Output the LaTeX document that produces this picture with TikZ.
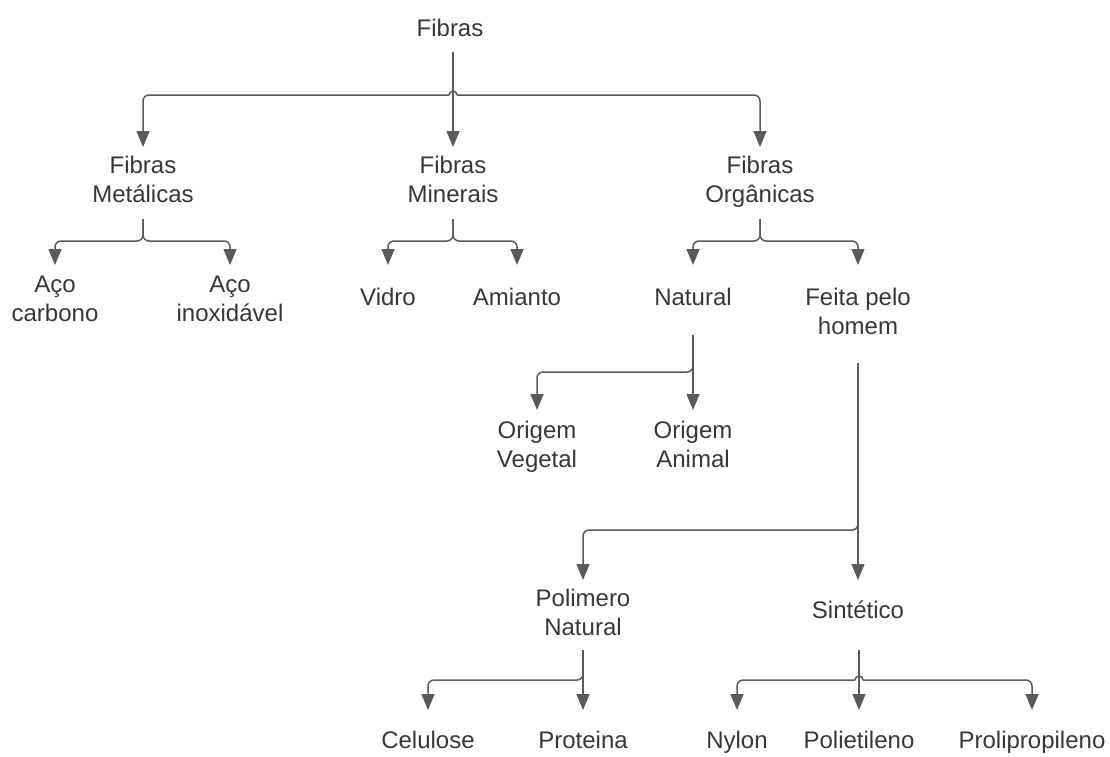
\documentclass[tikz,border=0pt]{standalone}
\usepackage{fontspec}
\setmainfont{Liberation Sans}
\usetikzlibrary{arrows.meta,calc}
\definecolor{edge}{RGB}{90,90,90}
\definecolor{ink}{RGB}{55,55,55}
\begin{document}
\begin{tikzpicture}[x=1pt,y=-1pt,
  lbl/.style={font=\fontsize{24}{29}\selectfont, text=ink, align=center, inner xsep=0pt, inner ysep=0pt},
  kid/.style={lbl, anchor=north, inner ysep=#1},
  kid/.default=9pt,
  link/.style={draw=edge, line width=1.5pt, rounded corners=6pt},
  tip/.style={-{Triangle[width=13pt,length=16pt]}},
  hop/.style={draw=edge, line width=1.5pt}]
\useasboundingbox (0,0) rectangle (1110,756);

% labels
\node[lbl] (fibras) at (450,28) {Fibras};
\node[kid] (metal) at (143,147) {Fibras\\Metálicas};
\node[kid] (miner) at (453,147) {Fibras\\Minerais};
\node[kid] (organ) at (760,147) {Fibras\\Orgânicas};

\node[kid=11pt] (acoc) at (55,265) {Aço\\carbono};
\node[kid=11pt] (acoi) at (230,265) {Aço\\inoxidável};
\node[kid=23pt] (vidro) at (388,265) {Vidro};
\node[kid=23pt] (amianto) at (517,265) {Amianto};
\node[kid=23pt] (natural) at (693,265) {Natural};
\node[kid=23pt] (feita) at (858,265) {Feita pelo\\homem};

\node[kid=11pt] (vegetal) at (537,410) {Origem\\Vegetal};
\node[kid=11pt] (animal) at (693,410) {Origem\\Animal};

\node[kid] (polimero) at (583,580) {Polimero\\Natural};
\node[kid=21pt] (sintetico) at (858,580) {Sintético};

\node[kid=21pt] (celulose) at (428,710) {Celulose};
\node[kid=21pt] (proteina) at (583,710) {Proteina};
\node[kid=21pt] (nylon) at (737,710) {Nylon};
\node[kid=21pt] (polietileno) at (859,710) {Polietileno};
\node[kid=21pt] (prolipro) at (1032,710) {Prolipropileno};

% stem starts and bar levels
\coordinate (s0) at (453,52);   \coordinate (b0) at (453,95);
\coordinate (s1) at (143,219);  \coordinate (b1) at (0,241);
\coordinate (s2) at (453,219);
\coordinate (s3) at (760,219);
\coordinate (s4) at (693,335);  \coordinate (b4) at (0,372);
\coordinate (s5) at (858,363);  \coordinate (b5) at (0,530);
\coordinate (s6) at (583,650);  \coordinate (b6) at (0,680);
\coordinate (s7) at (859,650);  \coordinate (b7) at (859,680);

% Fibras
\draw[link,tip] (s0) -- (miner.north);
\draw[link,tip] ($(b0)+(-4,0)$) -| (metal.north);
\draw[link,tip] ($(b0)+(4,0)$) -| (organ.north);
\draw[hop] ($(b0)+(-4,0)$) arc[start angle=180, end angle=360, radius=4];

% Fibras Metálicas
\draw[link,tip] (s1) |- (acoc.north |- b1) -- (acoc.north);
\draw[link,tip] (s1) |- (acoi.north |- b1) -- (acoi.north);

% Fibras Minerais
\draw[link,tip] (s2) |- (vidro.north |- b1) -- (vidro.north);
\draw[link,tip] (s2) |- (amianto.north |- b1) -- (amianto.north);

% Fibras Orgânicas
\draw[link,tip] (s3) |- (natural.north |- b1) -- (natural.north);
\draw[link,tip] (s3) |- (feita.north |- b1) -- (feita.north);

% Natural
\draw[link,tip] (s4) -- (animal.north);
\draw[link,tip] (s4) |- (vegetal.north |- b4) -- (vegetal.north);

% Feita pelo homem
\draw[link,tip] (s5) -- (sintetico.north);
\draw[link,tip] (s5) |- (polimero.north |- b5) -- (polimero.north);

% Polimero Natural
\draw[link,tip] (s6) -- (proteina.north);
\draw[link,tip] (s6) |- (celulose.north |- b6) -- (celulose.north);

% Sintético
\draw[link,tip] (s7) -- (polietileno.north);
\draw[link,tip] ($(b7)+(-4,0)$) -| (nylon.north);
\draw[link,tip] ($(b7)+(4,0)$) -| (prolipro.north);
\draw[hop] ($(b7)+(-4,0)$) arc[start angle=180, end angle=360, radius=4];
\end{tikzpicture}
\end{document}
